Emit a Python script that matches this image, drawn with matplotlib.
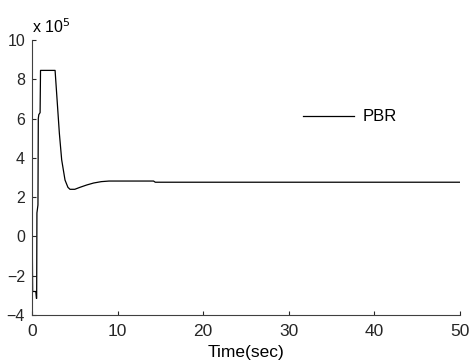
import matplotlib
matplotlib.use("Agg")
import matplotlib.pyplot as plt

plt.rcParams['font.family'] = ['Liberation Sans', 'DejaVu Sans']

# PBR response (units of 1e5)
time = [0.0, 0.02, 0.08, 0.45, 0.52, 0.55, 0.58, 0.7, 0.74, 0.8, 0.95, 1.0,
        2.7, 2.88, 3.2, 3.47, 3.86, 4.2, 4.44, 5.0, 5.6, 6.4, 7.2, 8.1,
        9.0, 14.2, 14.4, 50.0]
pbr = [0.5, 0.5, -2.8, -2.8, -3.15, -3.15, 1.2, 1.6, 6.0, 6.2, 6.3, 8.45,
       8.45, 7.3, 5.25, 3.9, 2.87, 2.5, 2.4, 2.4, 2.5, 2.62, 2.72, 2.79,
       2.82, 2.82, 2.76, 2.76]
scale = 1e5
pbr_vals = [v * scale for v in pbr]

xticks = [0, 10, 20, 30, 40, 50]
yticks = [-4, -2, 0, 2, 4, 6, 8, 10]

fig = plt.figure(figsize=(4.7, 3.63), dpi=100)
ax = fig.add_axes([0.068, 0.132, 0.911, 0.758])
ax.plot(time, [v / scale for v in pbr_vals], color='black', lw=0.9, label='PBR')

ax.set_xlim(0, 50)
ax.set_ylim(-4, 10)
ax.set_xticks(xticks)
ax.set_yticks(yticks)
ax.tick_params(direction='in', length=3, colors='#262626')
ax.tick_params(axis='x', labelsize=12.5, pad=6.5)
ax.tick_params(axis='y', labelsize=11.5, pad=5)
ax.spines['top'].set_visible(False)
ax.spines['right'].set_visible(False)
for s in ['left', 'bottom']:
    ax.spines[s].set_color('#404040')
    ax.spines[s].set_linewidth(0.8)

ax.set_xlabel('Time(sec)', fontsize=12.5, labelpad=4)
ax.text(0.0, 1.015, r'x 10$^{5}$', transform=ax.transAxes, fontsize=11.5,
        ha='left', va='bottom')

ax.legend(loc='center left', bbox_to_anchor=(0.597, 0.72), frameon=False,
          fontsize=12, handlelength=3.1, handletextpad=0.5)

fig.savefig('out.png', dpi=100)
